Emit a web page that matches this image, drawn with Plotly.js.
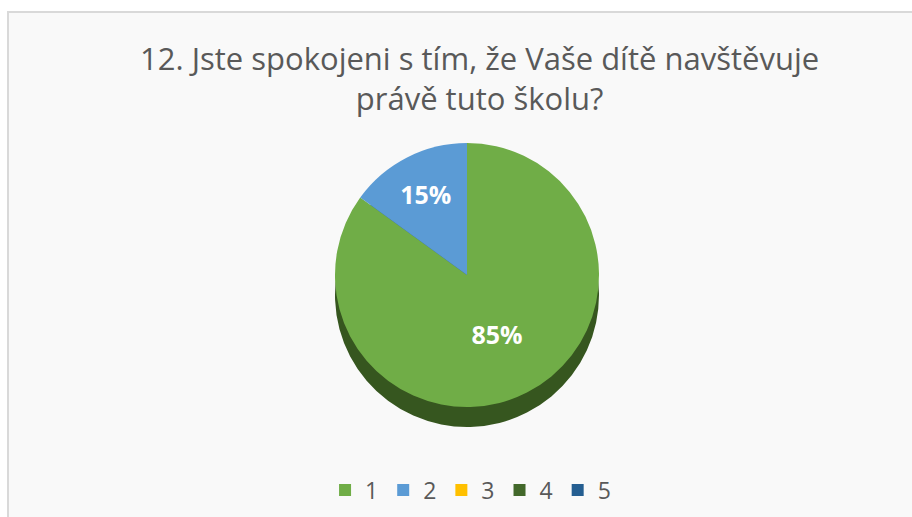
<!DOCTYPE html>
<html>
<head>
<meta charset="utf-8">
<script src="https://cdn.plot.ly/plotly-3.0.1.min.js"></script>
<style>
  body { margin: 0; background: #ffffff; }
  #chart {
    position: absolute; left: 7px; top: 11px;
    width: 905px; height: 506px;
    border-left: 2px solid #d9d9d9; border-top: 2px solid #d9d9d9;
  }
</style>
</head>
<body>
<div id="chart"></div>
<script>
// survey answers (grade 1..5) and share of respondents in %
const answers = ['1', '2', '3', '4', '5'];
const shares = [85, 15, 0, 0, 0];
const sliceColors = ['#70ad47', '#5b9bd5', '#ffc000', '#43682b', '#255e91'];
const sideColors = ['#36561f', '#2f5f8a', '#b38600', '#2c451c', '#173d5e'];
const chartTitle = '12. Jste spokojeni s tím, že Vaše dítě navštěvuje<br>právě tuto školu?';

// pie geometry in pixels of the plot div
const W = 905, H = 506;
const cx = 458, cy = 262, r = 132, depth = 20;

const dom = (x, y) => ({
  x: [(x - r) / W, (x + r) / W],
  y: [1 - (y + r) / H, 1 - (y - r) / H]
});

// darker copy shifted down, gives the pie its edge
const sidePie = {
  type: 'pie', labels: answers, values: shares, sort: false,
  direction: 'clockwise', rotation: 0,
  marker: { colors: sideColors },
  textinfo: 'none', hoverinfo: 'skip', showlegend: false,
  domain: dom(cx, cy + depth)
};

const mainPie = {
  type: 'pie', labels: answers, values: shares, sort: false,
  direction: 'clockwise', rotation: 0,
  marker: { colors: sliceColors, line: { width: 0 } },
  texttemplate: '%{percent:.0%}', textposition: 'inside',
  insidetextorientation: 'horizontal',
  textfont: { family: 'Open Sans, sans-serif', size: 25, color: '#ffffff', weight: 'bold' },
  domain: dom(cx, cy)
};

const layout = {
  width: W, height: H,
  margin: { l: 0, r: 0, t: 0, b: 0 },
  paper_bgcolor: '#f9f9f9',
  title: {
    text: chartTitle,
    font: { family: 'Open Sans, sans-serif', size: 31, color: '#595959' },
    xref: 'container', x: 0.52, xanchor: 'center',
    yref: 'container', y: 1 - 57 / H, yanchor: 'top'
  },
  legend: {
    orientation: 'h', xanchor: 'center', x: 0.51,
    yanchor: 'middle', y: 1 - 477 / H,
    font: { family: 'Open Sans, sans-serif', size: 23, color: '#595959' },
    itemwidth: 30, bgcolor: 'rgba(0,0,0,0)'
  }
};

Plotly.newPlot('chart', [sidePie, mainPie], layout, { displayModeBar: false });
</script>
</body>
</html>
